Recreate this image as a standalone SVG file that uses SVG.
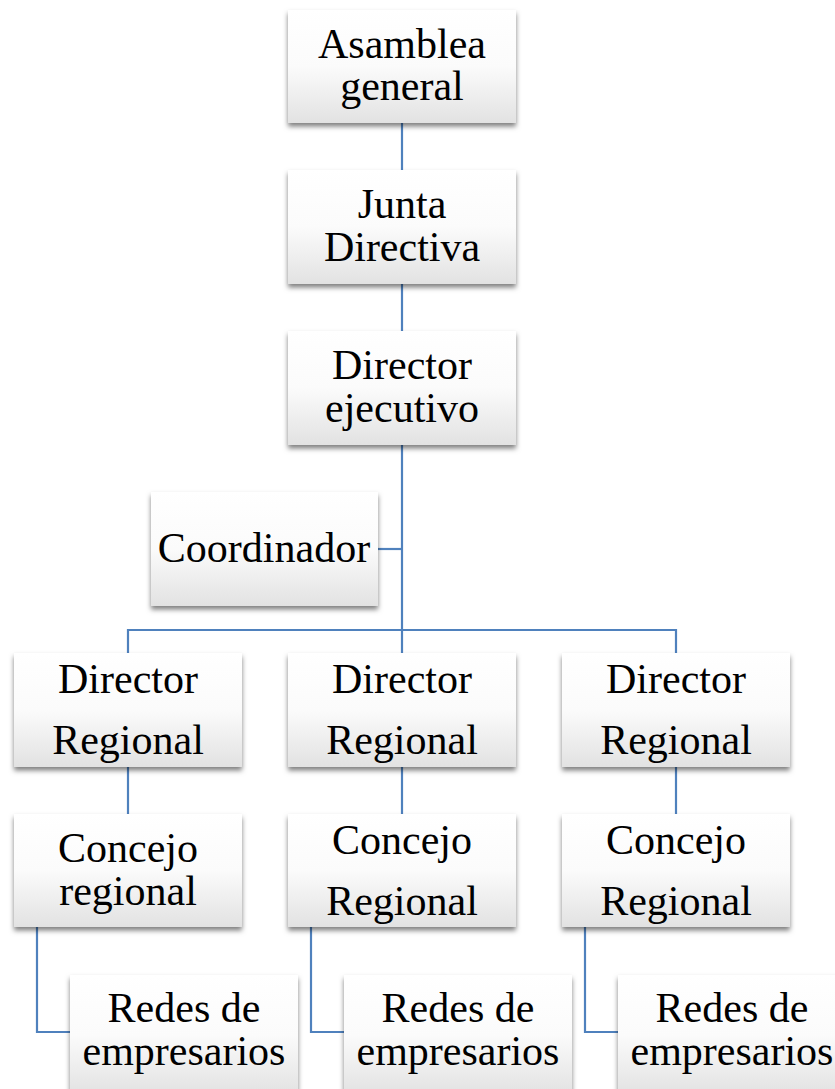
<svg xmlns="http://www.w3.org/2000/svg" width="835" height="1089" viewBox="0 0 835 1089">
<style>
.box{fill:url(#g);filter:url(#sh);}
.c{stroke:#4f81bd;stroke-width:2.2;fill:none;}
</style>
<defs>
<linearGradient id="g" x1="0" y1="0" x2="0" y2="1">
<stop offset="0" stop-color="#ffffff"/>
<stop offset="0.5" stop-color="#fbfbfb"/>
<stop offset="1" stop-color="#e2e2e2"/>
</linearGradient>
<filter id="sh" x="-10%" y="-10%" width="120%" height="130%">
<feDropShadow dx="0" dy="3.5" stdDeviation="2.5" flood-color="#000" flood-opacity="0.5"/>
</filter>
</defs>
<rect width="835" height="1089" fill="#fff"/>
<g id="connectors">
<line class="c" x1="402" y1="123" x2="402" y2="170"/>
<line class="c" x1="402" y1="284" x2="402" y2="331"/>
<line class="c" x1="402" y1="445" x2="402" y2="653"/>
<line class="c" x1="378" y1="549" x2="402" y2="549"/>
<polyline class="c" points="128,653 128,630 676,630 676,653"/>
<line class="c" x1="128" y1="767" x2="128" y2="814"/>
<line class="c" x1="402" y1="767" x2="402" y2="814"/>
<line class="c" x1="676" y1="767" x2="676" y2="814"/>
<polyline class="c" points="37,927 37,1032 70,1032"/>
<polyline class="c" points="311,927 311,1032 344,1032"/>
<polyline class="c" points="585,927 585,1032 618,1032"/>
</g>
<g font-family="'Liberation Serif', 'Times New Roman', serif" font-size="42" fill="#000" text-anchor="middle">
<g id="asamblea"><rect class="box" x="288" y="10" width="228" height="113"/><text x="402" y="58">Asamblea</text><text x="402" y="100">general</text></g>
<g id="junta"><rect class="box" x="288" y="170" width="228" height="114"/><text x="402" y="218">Junta</text><text x="402" y="261">Directiva</text></g>
<g id="director-ejecutivo"><rect class="box" x="288" y="331" width="228" height="114"/><text x="402" y="379">Director</text><text x="402" y="422">ejecutivo</text></g>
<g id="coordinador"><rect class="box" x="151" y="492" width="227" height="114"/><text x="264" y="562">Coordinador</text></g>
<g id="director-regional-1"><rect class="box" x="14" y="653" width="228" height="114"/><text x="128" y="693">Director</text><text x="128" y="754">Regional</text></g>
<g id="director-regional-2"><rect class="box" x="288" y="653" width="228" height="114"/><text x="402" y="693">Director</text><text x="402" y="754">Regional</text></g>
<g id="director-regional-3"><rect class="box" x="562" y="653" width="228" height="114"/><text x="676" y="693">Director</text><text x="676" y="754">Regional</text></g>
<g id="concejo-1"><rect class="box" x="14" y="814" width="228" height="113"/><text x="128" y="862">Concejo</text><text x="128" y="905">regional</text></g>
<g id="concejo-2"><rect class="box" x="288" y="814" width="228" height="113"/><text x="402" y="854">Concejo</text><text x="402" y="915">Regional</text></g>
<g id="concejo-3"><rect class="box" x="562" y="814" width="228" height="113"/><text x="676" y="854">Concejo</text><text x="676" y="915">Regional</text></g>
<g id="redes-1"><rect class="box" x="70" y="975" width="228" height="120"/><text x="184" y="1022">Redes de</text><text x="184" y="1065">empresarios</text></g>
<g id="redes-2"><rect class="box" x="344" y="975" width="228" height="120"/><text x="458" y="1022">Redes de</text><text x="458" y="1065">empresarios</text></g>
<g id="redes-3"><rect class="box" x="618" y="975" width="228" height="120"/><text x="732" y="1022">Redes de</text><text x="732" y="1065">empresarios</text></g>
</g>
</svg>
